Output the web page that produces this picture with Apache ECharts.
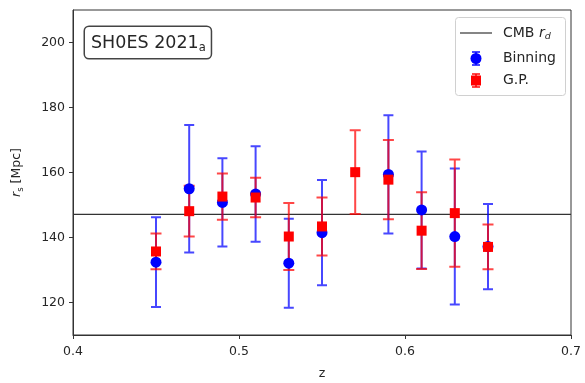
<!DOCTYPE html>
<html><head><meta charset="utf-8">
<script src="https://cdn.jsdelivr.net/npm/echarts@6/dist/echarts.min.js"></script>
<style>html,body{margin:0;padding:0;background:#fff}#c{width:585px;height:383px}</style>
</head><body><div id="c"></div>
<script>
// ---- data ----
const binZ   = [0.45, 0.47, 0.49, 0.51, 0.53, 0.55, 0.59, 0.61, 0.63, 0.65];
const binVal = [132.4, 155.0, 150.8, 153.4, 132.1, 141.5, 159.4, 148.5, 140.3, 137.2];
const binErr = [13.8, 19.6, 13.6, 14.7, 13.7, 16.2, 18.2, 18.0, 20.9, 13.1];
const gpZ    = [0.45, 0.47, 0.49, 0.51, 0.53, 0.55, 0.57, 0.59, 0.61, 0.63, 0.65];
const gpVal  = [135.7, 148.1, 152.6, 152.3, 140.3, 143.4, 160.1, 157.8, 142.1, 147.5, 137.1];
const gpErr  = [5.5, 7.8, 7.1, 6.1, 10.3, 8.9, 12.9, 12.2, 11.8, 16.5, 6.9];
const cmbRd  = 147.09;
const xTicks = [0.4, 0.5, 0.6, 0.7];
const yTicks = [120, 140, 160, 180, 200];

const FONT = "'DejaVu Sans', sans-serif";
const chart = echarts.init(document.getElementById('c'), null, {renderer: 'canvas'});

function errSeries(name, z, v, e, color, capHalf, zl) {
  return {
    type: 'custom', name: name, z: zl, silent: true,
    data: z.map((x, i) => [x, v[i] - e[i], v[i] + e[i]]),
    renderItem: function (params, api) {
      const lo = api.coord([api.value(0), api.value(1)]);
      const hi = api.coord([api.value(0), api.value(2)]);
      const x = lo[0];
      const d = 'M' + x + ',' + lo[1] + 'L' + x + ',' + hi[1] +
        'M' + (x - capHalf) + ',' + lo[1] + 'L' + (x + capHalf) + ',' + lo[1] +
        'M' + (x - capHalf) + ',' + hi[1] + 'L' + (x + capHalf) + ',' + hi[1];
      return {type: 'path', shape: {pathData: d}, style: {stroke: color, lineWidth: 2, fill: null}};
    }
  };
}

function legendBar(x, y1, y2, color) {
  const st = {stroke: color, lineWidth: 2};
  return [
    {type: 'line', z: 11, shape: {x1: x, y1: y1, x2: x, y2: y2}, style: st},
    {type: 'line', z: 11, shape: {x1: x - 4, y1: y1, x2: x + 4, y2: y1}, style: st},
    {type: 'line', z: 11, shape: {x1: x - 4, y1: y2, x2: x + 4, y2: y2}, style: st}
  ];
}

const option = {
  animation: false,
  backgroundColor: '#fff',
  grid: {left: 73, right: 14, top: 10, bottom: 48, show: true, borderColor: '#333', borderWidth: 1,
    containLabel: false, outerBoundsMode: 'none'},
  xAxis: {
    type: 'value', min: 0.4, max: 0.7,
    name: 'z', nameLocation: 'middle', nameGap: 32,
    nameTextStyle: {fontFamily: FONT, fontSize: 12.5, color: '#262626'},
    axisLine: {show: true, lineStyle: {color: '#333', width: 1}},
    axisTick: {show: true, length: 4, customValues: xTicks, lineStyle: {color: '#333'}},
    axisLabel: {customValues: xTicks, margin: 10, fontFamily: FONT, fontSize: 12.5, color: '#262626',
      formatter: v => v.toFixed(1)},
    splitLine: {show: false}
  },
  yAxis: {
    type: 'value', min: 110, max: 210,
    name: '{it|r}{sub|s} [Mpc]', nameLocation: 'middle', nameGap: 48, nameRotate: 90,
    nameTextStyle: {fontFamily: FONT, fontSize: 12.5, color: '#262626',
      rich: {it: {fontStyle: 'italic', fontFamily: FONT, fontSize: 12.5, color: '#262626'},
             sub: {fontFamily: FONT, fontSize: 8.5, color: '#262626', padding: [8, 0, 0, 0]}}},
    axisLine: {show: true, lineStyle: {color: '#333', width: 1}},
    axisTick: {show: true, length: 4, customValues: yTicks, lineStyle: {color: '#333'}},
    axisLabel: {customValues: yTicks, margin: 8, fontFamily: FONT, fontSize: 12.5, color: '#262626'},
    splitLine: {show: false}
  },
  series: [
    {type: 'line', name: 'CMB', z: 1, silent: true, symbol: 'none',
      data: [[0.4, cmbRd], [0.7, cmbRd]], lineStyle: {color: '#333', width: 1.2}},
    errSeries('Binning err', binZ, binVal, binErr, 'rgba(0,0,255,0.72)', 5, 2),
    errSeries('G.P. err', gpZ, gpVal, gpErr, 'rgba(255,0,0,0.72)', 5.5, 3),
    {type: 'scatter', name: 'Binning', z: 4, symbol: 'circle', symbolSize: 11,
      itemStyle: {color: '#0000ff', opacity: 1}, data: binZ.map((x, i) => [x, binVal[i]])},
    {type: 'scatter', name: 'G.P.', z: 5, symbol: 'rect', symbolSize: 10,
      itemStyle: {color: '#ff0000', opacity: 1}, data: gpZ.map((x, i) => [x, gpVal[i]])}
  ],
  graphic: [
    {type: 'text', x: 85, y: 27, z: 10,
      style: {text: 'SH0ES 2021{sub|a}', font: '17.5px ' + FONT, fill: '#262626',
        backgroundColor: '#fff', borderColor: '#444', borderWidth: 1.5, borderRadius: 4,
        padding: [5, 5, 4, 6],
        rich: {sub: {fontSize: 11.5, fontFamily: FONT, fill: '#262626', padding: [10, 0, 0, 0]}}}},
    {type: 'rect', z: 10, shape: {x: 455.5, y: 17.5, width: 110, height: 78, r: 3},
      style: {fill: 'rgba(255,255,255,0.8)', stroke: '#d0d0d0', lineWidth: 1}},
    {type: 'line', z: 11, shape: {x1: 460, y1: 33, x2: 492, y2: 33}, style: {stroke: '#333', lineWidth: 1.2}},
    {type: 'text', z: 11, x: 503, y: 33,
      style: {text: 'CMB {it|r}{sub|d}', font: '14px ' + FONT, fill: '#262626', verticalAlign: 'middle',
        rich: {it: {fontStyle: 'italic', fontSize: 14, fontFamily: FONT, fill: '#262626'},
               sub: {fontStyle: 'italic', fontSize: 9.5, fontFamily: FONT, fill: '#262626', padding: [8, 0, 0, 0]}}}},
    ...legendBar(476, 52, 65, 'rgba(0,0,255,0.72)'),
    {type: 'circle', z: 12, shape: {cx: 476, cy: 58.5, r: 5.5}, style: {fill: '#0000ff'}},
    {type: 'text', z: 11, x: 503, y: 58.5,
      style: {text: 'Binning', font: '14px ' + FONT, fill: '#262626', verticalAlign: 'middle'}},
    ...legendBar(476, 74, 87, 'rgba(255,0,0,0.72)'),
    {type: 'rect', z: 12, shape: {x: 471, y: 75.5, width: 10, height: 10}, style: {fill: '#ff0000'}},
    {type: 'text', z: 11, x: 503, y: 80.5,
      style: {text: 'G.P.', font: '14px ' + FONT, fill: '#262626', verticalAlign: 'middle'}}
  ]
};
chart.setOption(option);
</script>
</body></html>
